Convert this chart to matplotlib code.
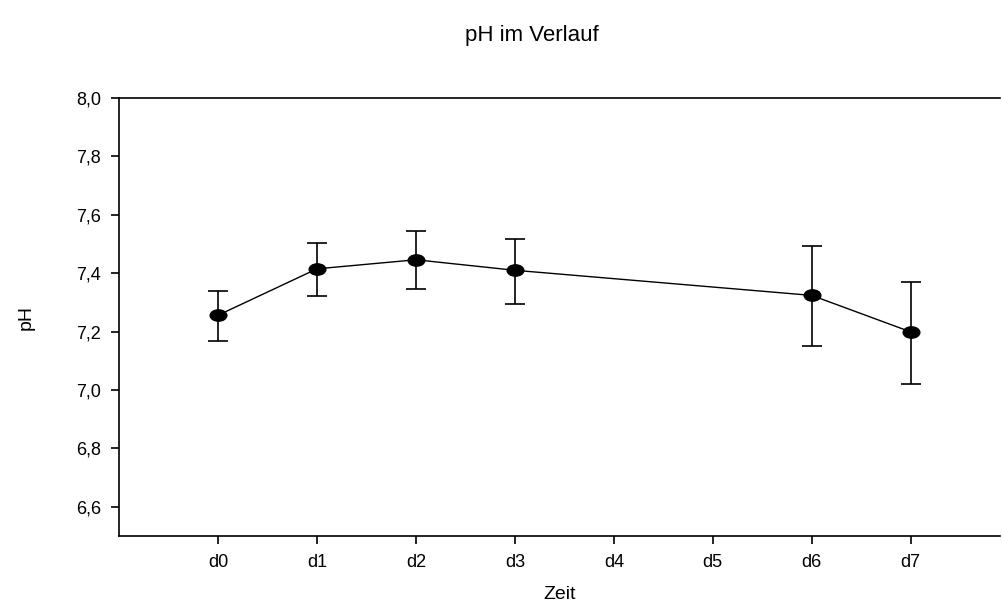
import matplotlib
matplotlib.use("Agg")
import matplotlib.pyplot as plt
import numpy as np
from matplotlib.path import Path
from matplotlib.transforms import Affine2D

plt.rcParams["font.family"] = ["Liberation Sans", "DejaVu Sans"]

# Data
days = ["d0", "d1", "d2", "d3", "d4", "d5", "d6", "d7"]
measured_pos = [0, 1, 2, 3, 6, 7]
ph_mean = [7.256, 7.415, 7.446, 7.410, 7.324, 7.199]
ph_low = [7.169, 7.321, 7.346, 7.293, 7.152, 7.022]
ph_high = [7.338, 7.505, 7.543, 7.517, 7.494, 7.371]
y_ticks = [6.6, 6.8, 7.0, 7.2, 7.4, 7.6, 7.8, 8.0]

mean = np.array(ph_mean)
yerr = np.vstack([mean - np.array(ph_low), np.array(ph_high) - mean])

# slightly flattened dot, as in the original
dot = Path.unit_circle().transformed(Affine2D().scale(1.0, 0.68))

fig = plt.figure(figsize=(10.02, 6.08), dpi=100)
ax = fig.add_axes([0.1188, 0.1184, 0.879, 0.7204])

ax.errorbar(measured_pos, mean, yerr=yerr, fmt="-", marker=dot,
            color="black", ecolor="black", elinewidth=1.2, capsize=7,
            capthick=1.2, markersize=12, linewidth=1.0)

ax.set_xlim(-1, 7.9)
ax.set_ylim(6.5, 8.0)
ax.set_xticks(range(len(days)))
ax.set_xticklabels(days)
ax.set_yticks(y_ticks)
ax.set_yticklabels([f"{t:.1f}".replace(".", ",") for t in y_ticks])

ax.spines["right"].set_visible(False)
for s in ["left", "top", "bottom"]:
    ax.spines[s].set_linewidth(1.2)
ax.tick_params(axis="both", direction="out", length=6, width=1.2,
               labelsize=13, pad=7)

ax.set_xlabel("Zeit", fontsize=14, labelpad=11)
ax.set_ylabel("pH", fontsize=14, labelpad=30)
fig.text(0.531, 0.942, "pH im Verlauf", ha="center", va="center", fontsize=16)

fig.savefig("out.png", dpi=100)
